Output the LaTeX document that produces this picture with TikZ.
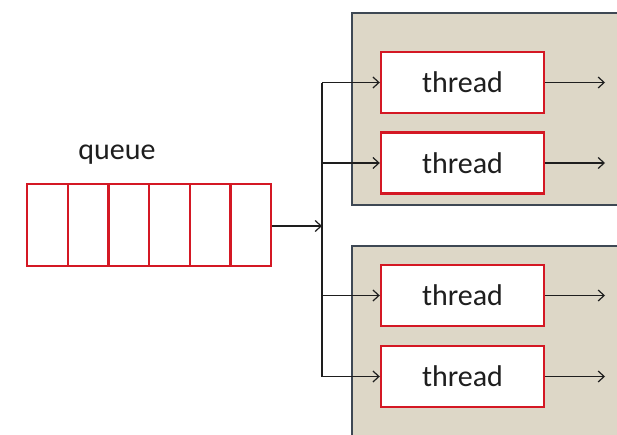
\documentclass[tikz,border=0pt]{standalone}
\usepackage{fontspec}
\setmainfont{Carlito}
\usetikzlibrary{arrows.meta}
\definecolor{boxred}{RGB}{212,24,36}
\definecolor{panelfill}{RGB}{221,215,199}
\definecolor{panelline}{RGB}{62,72,84}
\definecolor{inkline}{RGB}{30,30,30}
\tikzset{
  panel/.style={draw=panelline, fill=panelfill, line width=1.8pt, inner sep=0pt, anchor=north west},
  threadbox/.style={draw=boxred, fill=white, line width=2.4pt, minimum width=163pt, minimum height=61pt,
    inner sep=0pt, font=\fontsize{30}{33}\selectfont, text=inkline},
  cell/.style={draw=boxred, line width=2.2pt, minimum width=40.67pt, minimum height=82pt,
    inner sep=0pt, anchor=north west},
  wire/.style={draw=inkline, line width=1.3pt},
  flow/.style={wire, -{Straight Barb[length=6pt,width=11pt,line width=1.2pt]}},
  label/.style={font=\fontsize{30}{33}\selectfont, text=inkline}
}
\begin{document}
\begin{tikzpicture}[x=1pt,y=-1pt]
  \useasboundingbox (0,0) rectangle (617,434);
  \clip (0,0) rectangle (617,434);
  \fill[white] (0,0) rectangle (617,434);

  % thread pools
  \node[panel, minimum width=300pt, minimum height=192pt] (poolA) at (351,12) {};
  \node[panel, minimum width=300pt, minimum height=220pt] (poolB) at (351,245) {};

  % queue cells
  \foreach \i in {0,...,5}
    \node[cell] (c\i) at ({26+40.67*\i},183) {};
  \node[label, anchor=base] (qlabel) at (117,159) {queue};

  % worker threads
  \node[threadbox] (t1) at (462.5,82.5) {thread};
  \node[threadbox] (t2) at (462.5,163) {thread};
  \node[threadbox] (t3) at (462.5,295.5) {thread};
  \node[threadbox] (t4) at (462.5,376.5) {thread};

  % dispatch from the queue
  \coordinate (split) at (322,226);
  \draw[flow] (c5.east |- split) -- (split);
  \draw[wire] (split |- t1.west) -- (split |- t4.west);
  \foreach \t in {t1,t2,t3,t4} {
    \draw[flow] (split |- \t.west) -- (\t.west);
    \coordinate (\t out) at (605,0 |- \t.east);
    \draw[flow] (\t.east) -- (\t out);
  }
\end{tikzpicture}
\end{document}
